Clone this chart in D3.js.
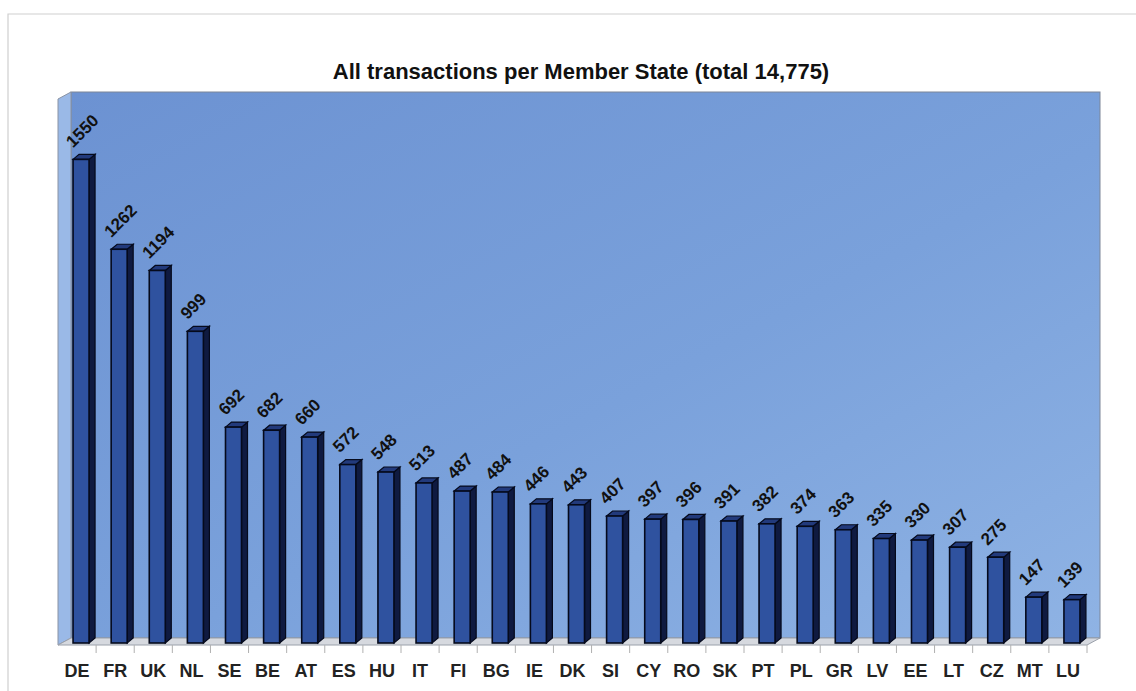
<!DOCTYPE html>
<html>
<head>
<meta charset="utf-8">
<script src="https://cdn.jsdelivr.net/npm/d3@7"></script>
<style>
  body { margin: 0; background: #fff; }
  svg { display: block; font-family: "Liberation Sans", Arial, sans-serif; }
</style>
</head>
<body>
<svg id="chart" width="1136" height="691"></svg>
<script>
// All transactions per Member State (total 14,775)
var memberStates = ["DE","FR","UK","NL","SE","BE","AT","ES","HU","IT","FI","BG","IE","DK","SI","CY","RO","SK","PT","PL","GR","LV","EE","LT","CZ","MT","LU"];
var transactions = [1550,1262,1194,999,692,682,660,572,548,513,487,484,446,443,407,397,396,391,382,374,363,335,330,307,275,147,139];
var yMax = 1750;

drawBars();

function drawBars(){
  var svg = d3.select("#chart");

  var data = memberStates.map(function(c, i) { return {state: c, value: transactions[i]}; });

  // front plane of the 3d box
  var x = d3.scaleBand()
    .domain(memberStates)
    .range([58, 1087]);

  var y = d3.scaleLinear()
    .domain([0, yMax])
    .range([645, 99]);

  var depth = {x: 13, y: -7};      // wall depth
  var barOff = {x: 4, y: -2};      // bars sit a little behind the front edge
  var barDepth = {x: 6, y: -5};
  var barW = x.bandwidth() * 0.42;

  var x0 = x.range()[0], x1 = x.range()[1];
  var yb = y(0), yt = y(yMax);

  // outer frame
  svg.append("path")
    .attr("d", "M8,691 L8,14 L1136,14")
    .attr("fill", "none")
    .attr("stroke", "#cfcfcf")
    .attr("stroke-width", 1.2);

  var defs = svg.append("defs");
  var grad = defs.append("linearGradient")
    .attr("id", "wallGrad")
    .attr("x1", "0").attr("y1", "0").attr("x2", "1").attr("y2", "1");
  grad.append("stop").attr("offset", "0%").attr("stop-color", "#6c92d2");
  grad.append("stop").attr("offset", "55%").attr("stop-color", "#7aa1db");
  grad.append("stop").attr("offset", "100%").attr("stop-color", "#8fb3e4");

  // back wall
  svg.append("rect")
    .attr("x", x0 + depth.x)
    .attr("y", yt + depth.y)
    .attr("width", x1 - x0)
    .attr("height", yb - yt)
    .attr("fill", "url(#wallGrad)")
    .attr("stroke", "#7d8698")
    .attr("stroke-width", 1);

  // left side wall
  svg.append("polygon")
    .attr("points", [
      [x0, yt], [x0 + depth.x, yt + depth.y],
      [x0 + depth.x, yb + depth.y], [x0, yb]
    ].join(" "))
    .attr("fill", "#9ab9e7")
    .attr("stroke", "#8a93a4")
    .attr("stroke-width", 1);

  // floor
  svg.append("polygon")
    .attr("points", [
      [x0, yb], [x1, yb],
      [x1 + depth.x, yb + depth.y], [x0 + depth.x, yb + depth.y]
    ].join(" "))
    .attr("fill", "#d6d9df")
    .attr("stroke", "#9aa0aa")
    .attr("stroke-width", 1);

  // tick marks between categories
  var bounds = memberStates.map(function(c) { return x(c); }).concat([x1]);
  svg.append("g")
    .selectAll("line")
    .data(bounds.slice(1))
    .enter().append("line")
    .attr("x1", function(d) { return d; })
    .attr("x2", function(d) { return d; })
    .attr("y1", yb)
    .attr("y2", yb + 8)
    .attr("stroke", "#b0b0b0")
    .attr("stroke-width", 1);

  // bars
  var bars = svg.append("g")
    .selectAll("g")
    .data(data)
    .enter().append("g");

  function fx(d) { return x(d.state) + x.bandwidth() / 2 - barW / 2 + barOff.x; }
  function fy(d) { return y(d.value) + barOff.y; }
  var bottom = yb + barOff.y;

  bars.append("polygon")
    .attr("points", function(d) {
      var l = fx(d) + barW, t = fy(d);
      return [[l, t], [l + barDepth.x, t + barDepth.y], [l + barDepth.x, bottom + barDepth.y], [l, bottom]].join(" ");
    })
    .attr("fill", "#0f1a40")
    .attr("stroke", "#050a1c")
    .attr("stroke-width", 1.2);

  bars.append("polygon")
    .attr("points", function(d) {
      var l = fx(d), t = fy(d);
      return [[l, t], [l + barDepth.x, t + barDepth.y], [l + barW + barDepth.x, t + barDepth.y], [l + barW, t]].join(" ");
    })
    .attr("fill", "#223a7c")
    .attr("stroke", "#050a1c")
    .attr("stroke-width", 1.2);

  bars.append("rect")
    .attr("x", fx)
    .attr("y", fy)
    .attr("width", barW)
    .attr("height", function(d) { return bottom - fy(d); })
    .attr("fill", "#2f529f")
    .attr("stroke", "#050a1c")
    .attr("stroke-width", 1.6);

  // value labels, rotated
  bars.append("text")
    .attr("transform", function(d) {
      return "translate(" + (fx(d) + 0) + "," + (fy(d) - 11) + ") rotate(-45)";
    })
    .attr("font-size", 17)
    .attr("font-weight", "bold")
    .attr("fill", "#111")
    .text(function(d) { return d.value; });

  // category axis
  var axis = svg.append("g")
    .attr("transform", "translate(0," + yb + ")")
    .call(d3.axisBottom(x).tickSize(0).tickPadding(19));
  axis.select(".domain").remove();
  axis.selectAll("text")
    .attr("font-size", 18)
    .attr("font-family", "Liberation Sans, Arial, sans-serif")
    .attr("font-weight", "bold")
    .attr("fill", "#222");

  // title
  svg.append("text")
    .attr("x", 581)
    .attr("y", 79)
    .attr("text-anchor", "middle")
    .attr("font-size", 22)
    .attr("font-weight", "bold")
    .attr("fill", "#111")
    .text("All transactions per Member State (total 14,775)");
}
</script>
</body>
</html>
